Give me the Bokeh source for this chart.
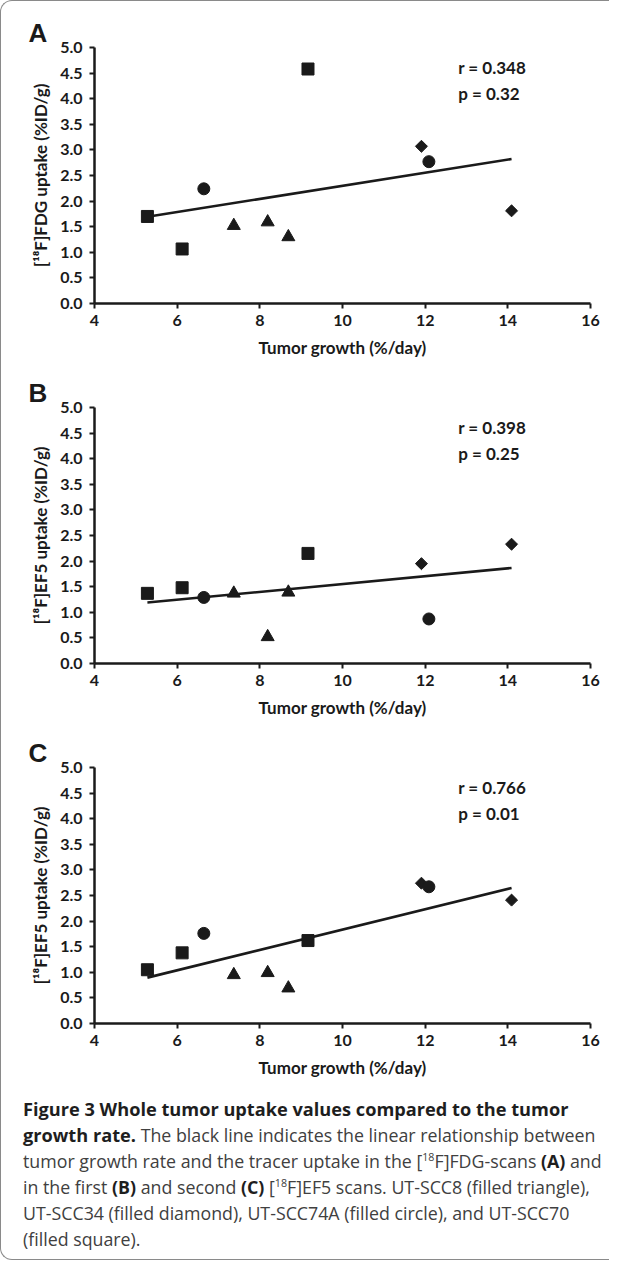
import numpy as np
from bokeh.plotting import figure
from bokeh.models import Label, Div, FixedTicker, Range1d, PrintfTickFormatter
from bokeh.layouts import column
from bokeh.embed import file_html
from bokeh.resources import INLINE

# Tumor growth (%/day) per cell line (same tumours in all three panels)
growth_tri = [7.37, 8.19, 8.69]      # UT-SCC8
growth_dia = [11.91, 14.09]          # UT-SCC34
growth_cir = [6.645, 12.09]          # UT-SCC74A
growth_sq = [5.28, 6.12, 9.165]      # UT-SCC70

# Panel A: [18F]FDG uptake (%ID/g)
fdg_tri = [1.52, 1.59, 1.30]
fdg_dia = [3.07, 1.81]
fdg_cir = [2.24, 2.77]
fdg_sq = [1.70, 1.065, 4.58]

# Panel B: first [18F]EF5 scan uptake (%ID/g)
ef5a_tri = [1.37, 0.52, 1.39]
ef5a_dia = [1.95, 2.33]
ef5a_cir = [1.29, 0.87]
ef5a_sq = [1.37, 1.48, 2.15]

# Panel C: second [18F]EF5 scan uptake (%ID/g)
ef5b_tri = [0.95, 0.99, 0.69]
ef5b_dia = [2.74, 2.41]
ef5b_cir = [1.76, 2.67]
ef5b_sq = [1.05, 1.38, 1.62]

x_ticks = [4, 6, 8, 10, 12, 14, 16]
y_ticks = [0.0, 0.5, 1.0, 1.5, 2.0, 2.5, 3.0, 3.5, 4.0, 4.5, 5.0]

panels = [
    ("A", "[¹⁸F]FDG uptake (%ID/g)", (fdg_tri, fdg_dia, fdg_cir, fdg_sq), "r  = 0.348", "p = 0.32"),
    ("B", "[¹⁸F]EF5 uptake (%ID/g)", (ef5a_tri, ef5a_dia, ef5a_cir, ef5a_sq), "r  = 0.398", "p = 0.25"),
    ("C", "[¹⁸F]EF5 uptake (%ID/g)", (ef5b_tri, ef5b_dia, ef5b_cir, ef5b_sq), "r  = 0.766", "p = 0.01"),
]

FONT = "Lato"
INK = "#1a1a1a"


def make_panel(letter, ylabel, ys, r_txt, p_txt):
    p = figure(frame_width=496, frame_height=256, x_range=Range1d(4, 16), y_range=Range1d(0, 5),
               output_backend="svg", toolbar_location=None,
               min_border_left=93, min_border_right=19, min_border_top=46, min_border_bottom=58)
    p.grid.visible = False
    p.outline_line_color = None
    p.background_fill_color = None
    p.border_fill_color = None

    p.title.text = letter
    p.title.text_font = "Liberation Sans"
    p.title.text_font_style = "bold"
    p.title.text_font_size = "26px"
    p.title.text_color = INK
    p.title.align = "left"
    p.title.offset = -66
    p.title.standoff = 0

    p.xaxis.ticker = FixedTicker(ticks=x_ticks)
    p.yaxis.ticker = FixedTicker(ticks=y_ticks)
    p.yaxis.formatter = PrintfTickFormatter(format="%.1f")
    p.xaxis.axis_label = "Tumor growth (%/day)"
    p.yaxis.axis_label = ylabel
    for ax in (p.xaxis[0], p.yaxis[0]):
        ax.axis_line_width = 2.5
        ax.axis_line_color = INK
        ax.major_tick_line_width = 2
        ax.major_tick_line_color = INK
        ax.major_tick_out = 5
        ax.major_tick_in = 0
        ax.minor_tick_line_color = None
        ax.major_label_text_font = FONT
        ax.major_label_text_font_style = "bold"
        ax.major_label_text_font_size = "16px"
        ax.major_label_text_color = INK
        ax.axis_label_text_font = FONT
        ax.axis_label_text_font_style = "bold"
        ax.axis_label_text_font_size = "17px"
        ax.axis_label_text_color = INK
    p.xaxis.major_label_standoff = 6
    p.xaxis.axis_label_standoff = 8
    p.yaxis.major_label_standoff = 7
    p.yaxis.axis_label_standoff = 6

    y_tri, y_dia, y_cir, y_sq = ys
    # regression line through all points
    all_x = np.array(growth_tri + growth_dia + growth_cir + growth_sq)
    all_y = np.array(y_tri + y_dia + y_cir + y_sq)
    slope, intercept = np.polyfit(all_x, all_y, 1)
    lx = np.array([all_x.min(), all_x.max()])
    p.line(lx, slope * lx + intercept, line_width=2.6, line_color=INK)

    p.scatter(growth_tri, y_tri, marker="triangle", size=13, color=INK)
    p.scatter(growth_dia, y_dia, marker="square", angle=np.pi / 4, size=8.5, color=INK)
    p.scatter(growth_cir, y_cir, marker="circle", size=12, color=INK)
    p.scatter(growth_sq, y_sq, marker="square", size=12, color=INK)

    for txt, yy in ((r_txt, 4.6), (p_txt, 4.1)):
        p.add_layout(Label(x=12.8, y=yy, text=txt, text_font=FONT, text_font_style="bold",
                           text_font_size="17px", text_color=INK, text_baseline="middle"))
    return p


figs = [make_panel(*pn) for pn in panels]

sup = '<sup style="font-size:60%;line-height:0;">18</sup>'
bold = 'style="color:#1e1e1e;font-weight:700;"'
caption_html = (
    '<div style="font-family:\'Open Sans\', sans-serif; font-size:17.8px; line-height:26px; '
    'color:#404040; white-space:nowrap;">'
    '<b style="color:#1e1e1e;font-size:18.2px;">Figure 3 Whole tumor uptake values compared to the tumor<br>'
    'growth rate.</b> The black line indicates the linear relationship between<br>'
    f'tumor growth rate and the tracer uptake in the [{sup}F]FDG-scans '
    f'<b {bold}>(A)</b> and<br>'
    f'in the first <b {bold}>(B)</b> and second <b {bold}>(C)</b> '
    f'[{sup}F]EF5 scans. UT-SCC8 (filled triangle),<br>'
    'UT-SCC34 (filled diamond), UT-SCC74A (filled circle), and UT-SCC70<br>'
    '(filled square).'
    '</div>'
)
caption = Div(text=caption_html, width=590, height=168,
              styles={"padding-left": "17px", "padding-top": "10px"})

layout = column(*figs, caption,
                styles={"border-left": "1.5px solid #8a8a8a", "border-top": "1.5px solid #8a8a8a",
                        "border-bottom": "1.5px solid #8a8a8a",
                        "border-top-left-radius": "12px", "border-bottom-left-radius": "12px"})

open("out.html", "w").write(file_html(layout, INLINE))
